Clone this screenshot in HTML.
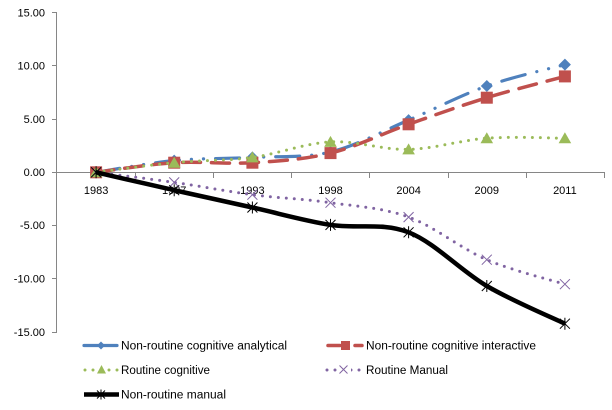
<!DOCTYPE html>
<html><head><meta charset="utf-8"><style>
html,body{margin:0;padding:0;background:#fff;}
svg{display:block;}
text{font-family:"Liberation Sans",Arial,sans-serif;font-size:11px;fill:#000;}
text.lg{font-size:11.5px;}
</style></head><body>
<svg width="612" height="410" viewBox="0 0 612 410" xmlns="http://www.w3.org/2000/svg">
<!-- axes -->
<g stroke="#868686" stroke-width="1" fill="none" shape-rendering="crispEdges">
<line x1="56.5" y1="12" x2="56.5" y2="333"/>
<line x1="52" y1="12.5" x2="57" y2="12.5"/>
<line x1="52" y1="65.5" x2="57" y2="65.5"/>
<line x1="52" y1="119.5" x2="57" y2="119.5"/>
<line x1="52" y1="172.5" x2="57" y2="172.5"/>
<line x1="52" y1="225.5" x2="57" y2="225.5"/>
<line x1="52" y1="278.5" x2="57" y2="278.5"/>
<line x1="52" y1="332.5" x2="57" y2="332.5"/>
<line x1="56" y1="172.5" x2="605" y2="172.5"/>
<line x1="135.5" y1="172" x2="135.5" y2="178"/>
<line x1="213.5" y1="172" x2="213.5" y2="178"/>
<line x1="291.5" y1="172" x2="291.5" y2="178"/>
<line x1="369.5" y1="172" x2="369.5" y2="178"/>
<line x1="448.5" y1="172" x2="448.5" y2="178"/>
<line x1="526.5" y1="172" x2="526.5" y2="178"/>
<line x1="604.5" y1="172" x2="604.5" y2="178"/>
</g>
<!-- y labels -->
<g text-anchor="end">
<text x="45" y="16.5">15.00</text>
<text x="45" y="69.5">10.00</text>
<text x="45" y="123">5.00</text>
<text x="45" y="176">0.00</text>
<text x="45" y="229">-5.00</text>
<text x="45" y="282.5">-10.00</text>
<text x="45" y="336">-15.00</text>
</g>
<!-- x labels -->
<g text-anchor="middle">
<text x="96.1" y="194">1983</text>
<text x="174.2" y="194">1987</text>
<text x="252.4" y="194">1993</text>
<text x="330.5" y="194">1998</text>
<text x="408.6" y="194">2004</text>
<text x="486.8" y="194">2009</text>
<text x="564.9" y="194">2011</text>
</g>

<!-- blue: Non-routine cognitive analytical -->
<path d="M96.1,172.3 C109.1,170.35 148.15,163.08 174.2,160.6 C200.25,158.12 226.35,158.83 252.4,157.4 C278.45,155.97 304.45,158.22 330.5,152.0 C356.55,145.78 382.55,131.1 408.6,120.1 C434.65,109.1 460.75,95.25 486.8,86.0 C512.85,76.75 551.9,68.17 564.9,64.6" fill="none" stroke="#4F81BD" stroke-width="3.2" stroke-linecap="round" stroke-dasharray="24 12 0.1 12 0.1 12"/>
<g fill="#4F81BD">
<polygon points="96.1,166.3 102.1,172.3 96.1,178.3 90.1,172.3"/>
<polygon points="174.2,154.6 180.2,160.6 174.2,166.6 168.2,160.6"/>
<polygon points="252.4,151.4 258.4,157.4 252.4,163.4 246.4,157.4"/>
<polygon points="330.5,146 336.5,152 330.5,158 324.5,152"/>
<polygon points="408.6,114.1 414.6,120.1 408.6,126.1 402.6,120.1"/>
<polygon points="486.8,80 492.8,86 486.8,92 480.8,86"/>
<polygon points="564.9,58.6 570.9,64.6 564.9,70.6 558.9,64.6"/>
</g>

<!-- red: Non-routine cognitive interactive -->
<path d="M96.1,172.3 C109.1,170.7 148.15,164.3 174.2,162.7 C200.25,161.1 226.35,164.3 252.4,162.7 C278.45,161.1 304.45,159.5 330.5,153.1 C356.55,146.7 382.55,133.53 408.6,124.3 C434.65,115.07 460.75,105.68 486.8,97.7 C512.85,89.72 551.9,79.95 564.9,76.4" fill="none" stroke="#C0504D" stroke-width="3.5" stroke-linecap="round" stroke-dasharray="18 11"/>
<g fill="#C0504D">
<rect x="90.1" y="166.3" width="12" height="12"/>
<rect x="168.2" y="156.7" width="12" height="12"/>
<rect x="246.4" y="156.7" width="12" height="12"/>
<rect x="324.5" y="147.1" width="12" height="12"/>
<rect x="402.6" y="118.3" width="12" height="12"/>
<rect x="480.8" y="91.7" width="12" height="12"/>
<rect x="558.9" y="70.4" width="12" height="12"/>
</g>

<!-- green: Routine cognitive -->
<path d="M96.1,172.3 C109.1,170.7 148.15,165.18 174.2,162.7 C200.25,160.22 226.35,160.87 252.4,157.4 C278.45,153.93 304.45,143.23 330.5,141.9 C356.55,140.57 382.55,150.02 408.6,149.4 C434.65,148.78 460.75,140.07 486.8,138.2 C512.85,136.33 551.9,138.2 564.9,138.2" fill="none" stroke="#9BBB59" stroke-width="3" stroke-linecap="round" stroke-dasharray="0 8"/>
<g fill="#9BBB59">
<polygon points="96.1,166.3 102.4,177.3 89.8,177.3"/>
<polygon points="174.2,156.7 180.5,167.7 167.9,167.7"/>
<polygon points="252.4,151.4 258.7,162.4 246.1,162.4"/>
<polygon points="330.5,135.9 336.8,146.9 324.2,146.9"/>
<polygon points="408.6,143.4 414.9,154.4 402.3,154.4"/>
<polygon points="486.8,132.2 493.1,143.2 480.5,143.2"/>
<polygon points="564.9,132.2 571.2,143.2 558.6,143.2"/>
</g>

<!-- purple: Routine Manual -->
<path d="M96.1,172.3 C109.1,173.98 148.15,178.67 174.2,182.4 C200.25,186.13 226.35,191.32 252.4,194.7 C278.45,198.08 304.45,198.97 330.5,202.7 C356.55,206.43 382.55,207.6 408.6,217.1 C434.65,226.6 460.75,248.52 486.8,259.7 C512.85,270.88 551.9,280.12 564.9,284.2" fill="none" stroke="#8064A2" stroke-width="3" stroke-linecap="round" stroke-dasharray="0 8"/>
<g stroke="#8064A2" stroke-width="1" fill="none">
<path d="M91.1,167.3 l10,10 m0,-10 l-10,10"/>
<path d="M169.2,177.4 l10,10 m0,-10 l-10,10"/>
<path d="M247.4,189.7 l10,10 m0,-10 l-10,10"/>
<path d="M325.5,197.7 l10,10 m0,-10 l-10,10"/>
<path d="M403.6,212.1 l10,10 m0,-10 l-10,10"/>
<path d="M481.8,254.7 l10,10 m0,-10 l-10,10"/>
<path d="M559.9,279.2 l10,10 m0,-10 l-10,10"/>
</g>

<!-- black: Non-routine manual -->
<path d="M96.1,172.3 C109.1,175.28 148.15,184.33 174.2,190.2 C200.25,196.07 226.35,201.72 252.4,207.5 C278.45,213.28 304.45,220.77 330.5,224.9 C356.55,229.03 382.55,222.12 408.6,232.3 C434.65,242.48 460.75,270.77 486.8,286.0 C512.85,301.23 551.9,317.42 564.9,323.7" fill="none" stroke="#000" stroke-width="4.5" stroke-linejoin="round"/>
<g stroke="#000" stroke-width="1" fill="none">
<path d="M91.1,167.3 l10,10 m0,-10 l-10,10 M96.1,166.3 v12"/>
<path d="M169.2,185.2 l10,10 m0,-10 l-10,10 M174.2,184.2 v12"/>
<path d="M247.4,202.5 l10,10 m0,-10 l-10,10 M252.4,201.5 v12"/>
<path d="M325.5,219.9 l10,10 m0,-10 l-10,10 M330.5,218.9 v12"/>
<path d="M403.6,227.3 l10,10 m0,-10 l-10,10 M408.6,226.3 v12"/>
<path d="M481.8,281 l10,10 m0,-10 l-10,10 M486.8,280 v12"/>
<path d="M559.9,318.7 l10,10 m0,-10 l-10,10 M564.9,317.7 v12"/>
</g>

<!-- legend -->
<line x1="84" y1="345.5" x2="117" y2="345.5" stroke="#4F81BD" stroke-width="3.2" stroke-linecap="round"/>
<polygon points="101,341.5 105,345.5 101,349.5 97,345.5" fill="#4F81BD"/>
<text class="lg" x="121" y="349.5" textLength="166" lengthAdjust="spacingAndGlyphs">Non-routine cognitive analytical</text>

<line x1="328" y1="345.5" x2="340" y2="345.5" stroke="#C0504D" stroke-width="3.5" stroke-linecap="round"/>
<line x1="355" y1="345.5" x2="362" y2="345.5" stroke="#C0504D" stroke-width="3.5" stroke-linecap="round"/>
<rect x="341" y="341" width="9" height="9" fill="#C0504D"/>
<text class="lg" x="366" y="349.5" textLength="170" lengthAdjust="spacingAndGlyphs">Non-routine cognitive interactive</text>

<line x1="85" y1="370" x2="118" y2="370" stroke="#9BBB59" stroke-width="3" stroke-linecap="round" stroke-dasharray="0 8"/>
<polygon points="101.5,365 106,373.5 97,373.5" fill="#9BBB59"/>
<text class="lg" x="121" y="374" textLength="89" lengthAdjust="spacingAndGlyphs">Routine cognitive</text>

<line x1="327" y1="370" x2="362" y2="370" stroke="#8064A2" stroke-width="3" stroke-linecap="round" stroke-dasharray="0 8"/>
<rect x="337" y="364" width="14" height="12" fill="#fff"/>
<path d="M339.5,365.5 l8,8 m0,-8 l-8,8" stroke="#8064A2" stroke-width="1" fill="none"/>
<text class="lg" x="366" y="374" textLength="82" lengthAdjust="spacingAndGlyphs">Routine Manual</text>

<line x1="84" y1="394.5" x2="119" y2="394.5" stroke="#000" stroke-width="4.5"/>
<path d="M97,390.5 l8,8 m0,-8 l-8,8 M101,389.5 v10" stroke="#000" stroke-width="1" fill="none"/>
<text class="lg" x="121" y="398.5" textLength="105" lengthAdjust="spacingAndGlyphs">Non-routine manual</text>
</svg>
</body></html>
